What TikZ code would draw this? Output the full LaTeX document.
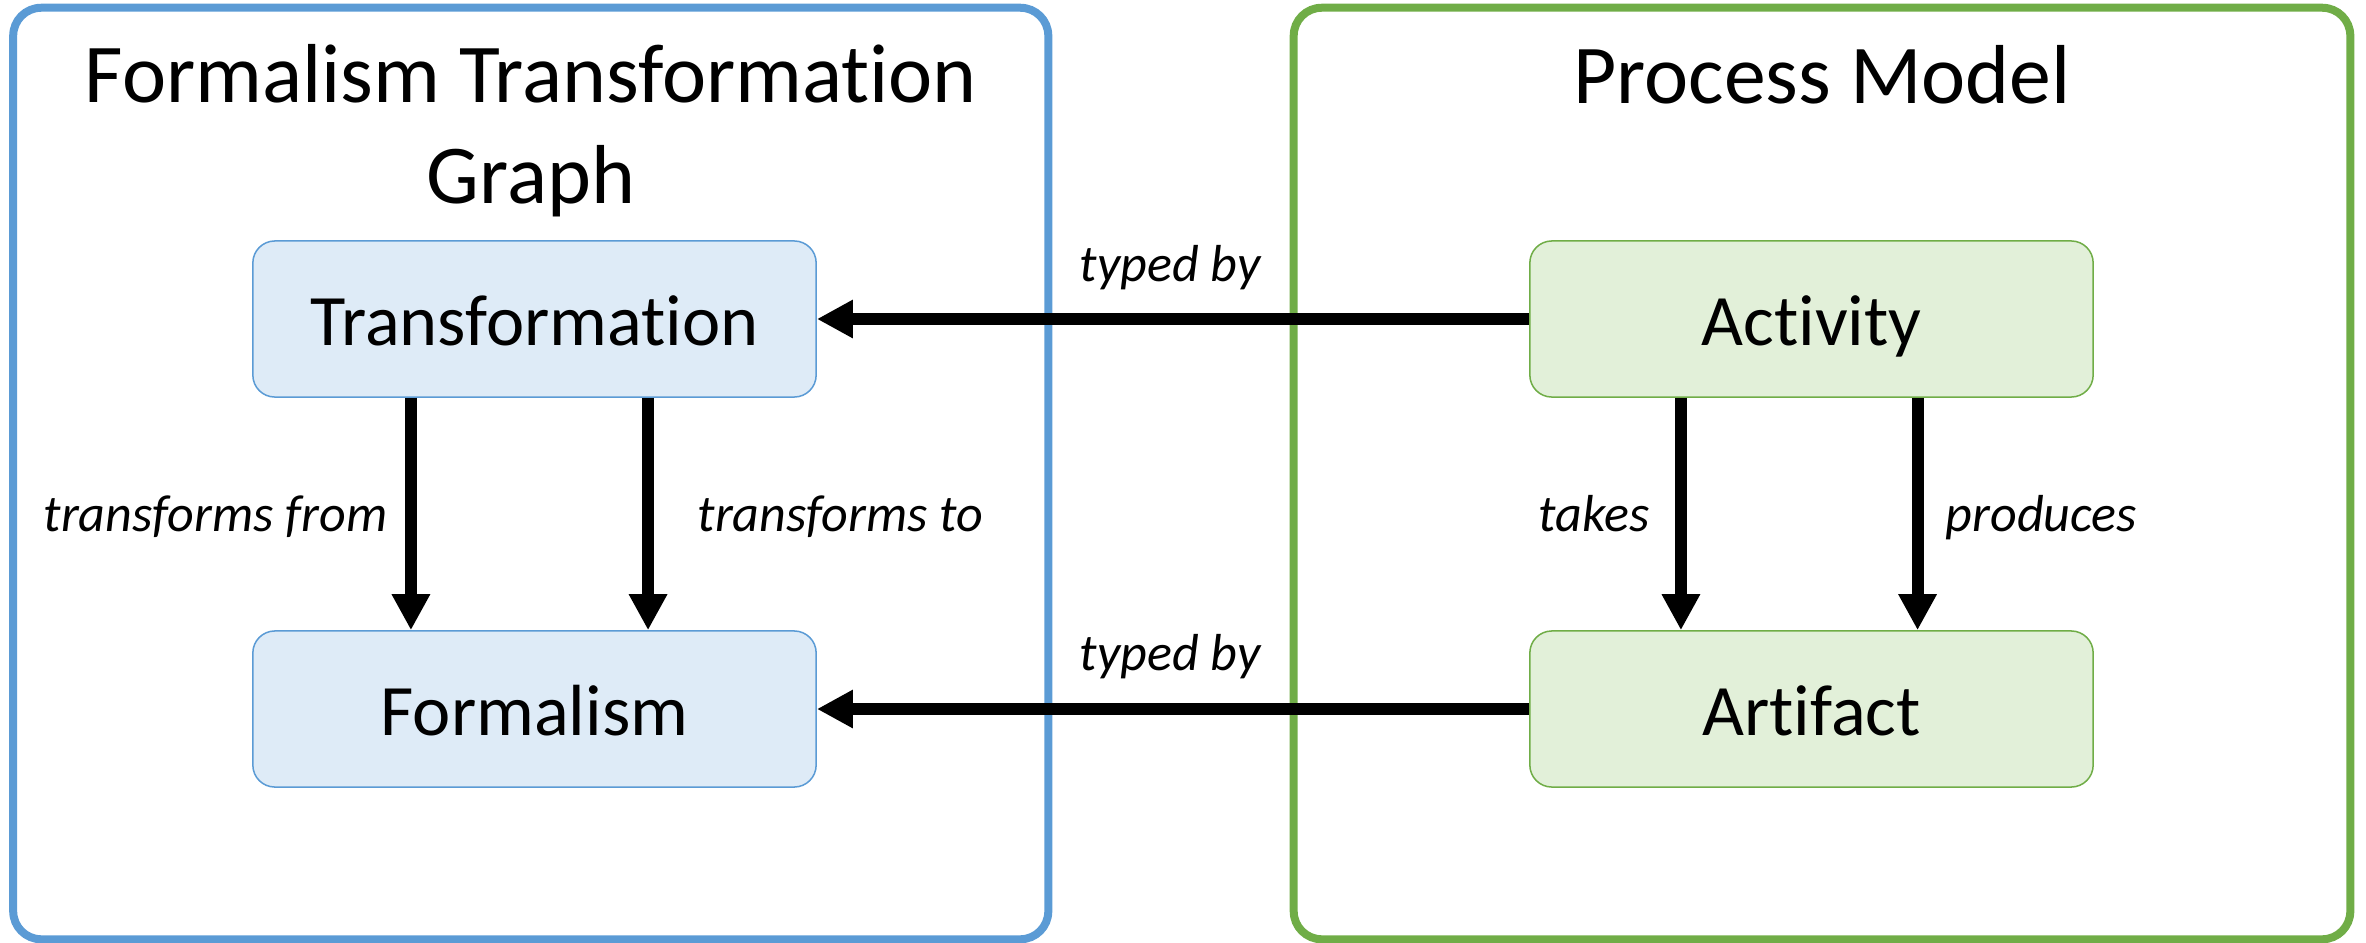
\documentclass[tikz,border=0pt]{standalone}
\usepackage{fontspec}
\setmainfont[Ligatures=NoCommon]{Carlito}
\usetikzlibrary{arrows.meta}
\definecolor{ftgline}{HTML}{5B9BD5}
\definecolor{ftgfill}{HTML}{DEEBF7}
\definecolor{pmline}{HTML}{70AD47}
\definecolor{pmfill}{HTML}{E2F0D9}
\begin{document}
\begin{tikzpicture}[x=0.01cm,y=-0.01cm,
  frame/.style={draw, line width=0.08cm, rounded corners=0.28cm, inner sep=0pt,
    minimum height=9.31cm},
  heading/.style={inner sep=0pt, anchor=base, align=center,
    font=\fontsize{23.8}{28.5}\selectfont},
  entity/.style={draw, rounded corners=0.22cm, line width=0.015cm,
    minimum width=5.63cm, minimum height=1.56cm, inner sep=0pt,
    text height=0.52cm, text depth=0pt,
    font=\fontsize{20.6}{24}\selectfont},
  ftgbox/.style={entity, draw=ftgline, fill=ftgfill},
  pmbox/.style={entity, draw=pmline, fill=pmfill},
  lbl/.style={inner sep=0pt, font=\fontsize{14.8}{18}\selectfont\itshape},
  conn/.style={line width=0.12cm, -{Triangle[length=0.36cm, width=0.36cm]}}]
\useasboundingbox (0,0) rectangle (2366,942);

% outer frames
\node[frame, draw=ftgline, minimum width=10.345cm] (ftg) at (530.75,473.5) {};
\node[frame, draw=pmline, minimum width=10.56cm] (pm) at (1822,473.5) {};

% headings (a multi-line node sits on the baseline of its last line)
\node[heading] (ftgtitle) at (531,203) {Formalism Transformation\\Graph};
\node[heading] (pmtitle) at (1822,103) {Process Model};

% entities
\node[ftgbox] (tr) at (534.5,319) {Transformation};
\node[ftgbox] (fo) at (534.5,709) {Formalism};
\node[pmbox] (act) at (1811.5,319) {Activity};
\node[pmbox] (art) at (1811.5,709) {Artifact};

% relations
\draw[conn] (act.west) -- (tr.east);
\draw[conn] (art.west) -- (fo.east);
\draw[conn] ([xshift=-1.235cm]tr.south) -- ([xshift=-1.235cm]fo.north);
\draw[conn] ([xshift=1.135cm]tr.south) -- ([xshift=1.135cm]fo.north);
\draw[conn] ([xshift=-1.305cm]act.south) -- ([xshift=-1.305cm]art.north);
\draw[conn] ([xshift=1.06cm]act.south) -- ([xshift=1.06cm]art.north);

% relation labels
\node[lbl, anchor=base] (typ1) at (1170,281) {typed by};
\node[lbl, anchor=base] (typ2) at (1170,670) {typed by};
\node[lbl, anchor=base east] (tfrom) at (388,531) {transforms from};
\node[lbl, anchor=base west] (tto) at (697,531) {transforms to};
\node[lbl, anchor=base east] (takes) at (1650,531) {takes};
\node[lbl, anchor=base west] (prod) at (1945,531) {produces};
\end{tikzpicture}
\end{document}
